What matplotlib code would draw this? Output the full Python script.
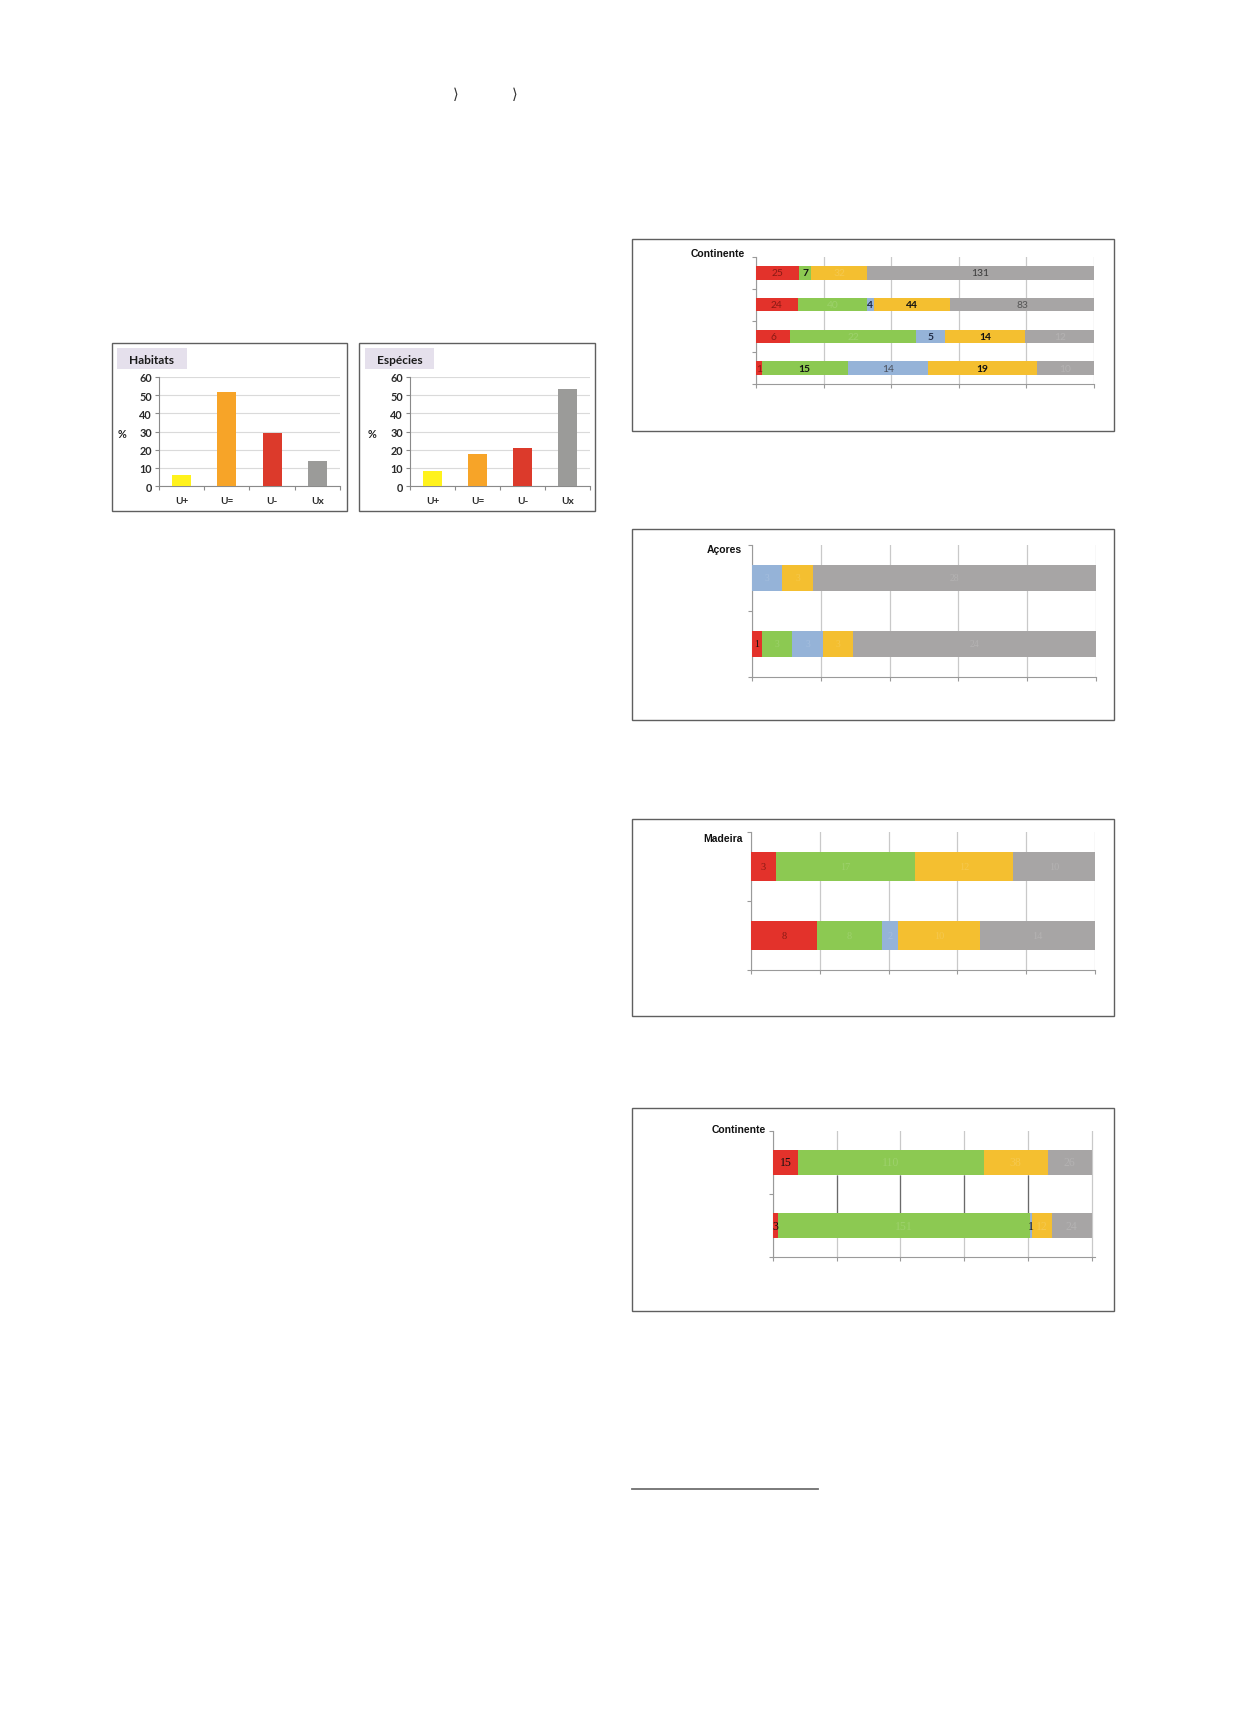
import numpy as np
import matplotlib
matplotlib.use("Agg")
import matplotlib.pyplot as plt
from matplotlib.patches import Rectangle

# ---------------- data ----------------
bar_categories = ["U+", "U=", "U-", "Ux"]
habitats_pct = [6, 52, 29, 13.5]
especies_pct = [8.3, 17.4, 20.9, 53.2]
y_ticks_pct = [0, 10, 20, 30, 40, 50, 60]

# stacked bars: red, green, blue, yellow, gray (counts per row)
cont1_red = [25, 24, 6, 1]
cont1_green = [7, 40, 22, 15]
cont1_blue = [0, 4, 5, 14]
cont1_yellow = [32, 44, 14, 19]
cont1_gray = [131, 83, 12, 10]

acores_red = [0, 1]
acores_green = [0, 3]
acores_blue = [3, 3]
acores_yellow = [3, 3]
acores_gray = [28, 24]

madeira_red = [3, 8]
madeira_green = [17, 8]
madeira_blue = [0, 2]
madeira_yellow = [12, 10]
madeira_gray = [10, 14]

cont2_red = [15, 3]
cont2_green = [110, 151]
cont2_blue = [0, 1]
cont2_yellow = [38, 12]
cont2_gray = [26, 24]

# ---------------- layout helpers ----------------
W, H = 1238, 1733
fig = plt.figure(figsize=(W / 100, H / 100), dpi=100)
fig.patch.set_facecolor("white")


def rect(x0, y0, x1, y1):
    return [x0 / W, 1 - y1 / H, (x1 - x0) / W, (y1 - y0) / H]


bg = fig.add_axes([0, 0, 1, 1])
bg.set_xlim(0, W)
bg.set_ylim(H, 0)
bg.axis("off")

BOX = "#5f5f5f"


def box(x0, y0, x1, y1):
    bg.add_patch(Rectangle((x0, y0), x1 - x0, y1 - y0, fill=False, ec=BOX, lw=1.0))


# chevrons at the top
for xc in (456, 515):
    bg.text(xc, 94, "\u27e9", fontsize=10.5, color="#333333", ha="center", va="center",
            family=["DejaVu Sans"])

# footnote rule
bg.plot([632, 818], [1490, 1490], color="#707070", lw=1.3)

# ---------------- left bar charts ----------------
bar_colors = ["#FFF21C", "#F7A428", "#DC3A2B", "#9B9B99"]


def bar_panel(bx, title, tbox, axr, values, pct_x):
    box(*bx)
    bg.add_patch(Rectangle((tbox[0], tbox[1]), tbox[2] - tbox[0], tbox[3] - tbox[1],
                           fc="#E5E0EC", ec="none"))
    bg.text((tbox[0] + tbox[2]) / 2, (tbox[1] + tbox[3]) / 2 + 0.5, title,
            fontsize=8.6, fontweight="bold", ha="center", va="center",
            family=["Lato", "DejaVu Sans"], color="#1a1a1a")
    bg.text(pct_x, 434, "%", fontsize=7.8, fontweight="bold", ha="center", va="center",
            family=["Lato", "DejaVu Sans"], color="#222222")
    ax = fig.add_axes(rect(*axr))
    x = np.arange(len(bar_categories))
    ax.bar(x, values, width=0.42, color=bar_colors, zorder=3)
    ax.set_xlim(-0.5, 3.5)
    ax.set_ylim(0, 60)
    ax.set_yticks(y_ticks_pct)
    ax.set_yticklabels([str(v) for v in y_ticks_pct], fontsize=7.8, fontweight="bold",
                       family=["Lato", "DejaVu Sans"], color="#2a2a2a")
    ax.set_xticks(x)
    ax.set_xticklabels(bar_categories, fontsize=7.3, fontweight="bold",
                       family=["Lato", "DejaVu Sans"], color="#2a2a2a")
    ax.set_xticks([-0.5, 0.5, 1.5, 2.5, 3.5], minor=True)
    ax.tick_params(axis="x", which="major", length=0, pad=7)
    ax.tick_params(axis="x", which="minor", length=3, color="#8a8a8a", width=0.8)
    ax.tick_params(axis="y", length=3, color="#8a8a8a", width=0.8, pad=2)
    ax.yaxis.grid(True, color="#DADADA", lw=0.8, zorder=0)
    for s in ("top", "right"):
        ax.spines[s].set_visible(False)
    for s in ("left", "bottom"):
        ax.spines[s].set_color("#8a8a8a")
        ax.spines[s].set_linewidth(0.8)
    ax.set_axisbelow(True)
    return ax


bar_panel((112, 344, 347, 512), "Habitats", (117, 349, 187, 370),
          (159, 378, 340, 487), habitats_pct, 122)
bar_panel((359, 344, 595, 512), "Espécies", (365, 349, 434, 370),
          (410, 378, 590, 487), especies_pct, 372)

# ---------------- right stacked charts ----------------
seg_colors = ["#E3322B", "#8CC952", "#95B3D8", "#F4BF30", "#A7A5A5"]
FAINT = ("#ffffff", "normal", 0.15)
DR = ("#8a1a14", "normal", 1.0)
BK = ("#111111", "bold", 1.0)
NV = ("#1f2a44", "bold", 1.0)
DG = ("#3a3a3a", "normal", 1.0)
K = ("#111111", "normal", 1.0)


def stacked_panel(bx, title, title_xy, axr, series, styles, height, xmax,
                  label_family, label_size, dark_between=False):
    box(*bx)
    bg.text(title_xy[0], title_xy[1], title, fontsize=7.5, fontweight="bold",
            ha="right", va="center", family=["Liberation Sans", "DejaVu Sans"],
            color="#111111")
    ax = fig.add_axes(rect(*axr))
    data = np.array(series, dtype=float)  # (segments, rows)
    nrows = data.shape[1]
    totals = data.sum(axis=0)
    y = np.arange(nrows)
    left = np.zeros(nrows)
    for si in range(data.shape[0]):
        pct = data[si] / totals * 100
        ax.barh(y, pct, left=left, height=height, color=seg_colors[si], zorder=3)
        for ri in range(nrows):
            st = styles[ri][si]
            if data[si, ri] > 0 and st is not None:
                ax.text(left[ri] + pct[ri] / 2, y[ri], f"{int(data[si, ri])}",
                        ha="center", va="center", fontsize=label_size,
                        color=st[0], fontweight=st[1], alpha=st[2],
                        family=label_family, zorder=4)
        left += pct
    ax.set_xlim(0, xmax)
    ax.set_ylim(nrows - 0.5, -0.5)
    ax.set_xticks([0, 20, 40, 60, 80, 100])
    ax.set_xticklabels([])
    ax.set_yticks(np.arange(nrows + 1) - 0.5)
    ax.set_yticklabels([])
    ax.tick_params(axis="both", length=3, color="#9a9a9a", width=0.8)
    ax.xaxis.grid(True, color="#C9C9C9", lw=0.9, zorder=0)
    if dark_between:
        for gx in [20, 40, 60, 80]:
            ax.vlines(gx, 0 + height / 2, 1 - height / 2, color="#6a6a6a", lw=0.9, zorder=2)
    for s in ("top", "right"):
        ax.spines[s].set_visible(False)
    for s in ("left", "bottom"):
        ax.spines[s].set_color("#9a9a9a")
        ax.spines[s].set_linewidth(0.8)
    ax.set_axisbelow(True)
    return ax


cal = ["Lato", "DejaVu Sans"]
ser = ["Liberation Serif", "DejaVu Serif"]

stacked_panel((632, 240, 1114, 432), "Continente", (745, 254),
              (756, 258, 1094, 385),
              [cont1_red, cont1_green, cont1_blue, cont1_yellow, cont1_gray],
              [[DR, BK, None, FAINT, DG],
               [DR, FAINT, NV, BK, ("#555555", "normal", 1.0)],
               [DR, FAINT, NV, BK, FAINT],
               [DR, BK, ("#4a4f5a", "normal", 1.0), BK, FAINT]],
              0.42, 100, cal, 7.4)

stacked_panel((632, 530, 1114, 721), "Açores", (742, 550),
              (752, 546, 1096, 678),
              [acores_red, acores_green, acores_blue, acores_yellow, acores_gray],
              [[None, None, FAINT, FAINT, FAINT],
               [K, FAINT, FAINT, FAINT, FAINT]],
              0.39, 100, ser, 7)

stacked_panel((632, 820, 1114, 1017), "Madeira", (743, 839),
              (751, 833, 1095, 971),
              [madeira_red, madeira_green, madeira_blue, madeira_yellow, madeira_gray],
              [[DR, FAINT, None, FAINT, FAINT],
               [DR, FAINT, FAINT, FAINT, FAINT]],
              0.41, 100, ser, 7.5)

stacked_panel((632, 1109, 1114, 1312), "Continente", (766, 1130),
              (773, 1132, 1095, 1258),
              [cont2_red, cont2_green, cont2_blue, cont2_yellow, cont2_gray],
              [[K, FAINT, None, FAINT, FAINT],
               [K, FAINT, K, FAINT, FAINT]],
              0.41, 101.05, ser, 8.5, dark_between=True)

fig.savefig("out.png", dpi=100, facecolor="white")
